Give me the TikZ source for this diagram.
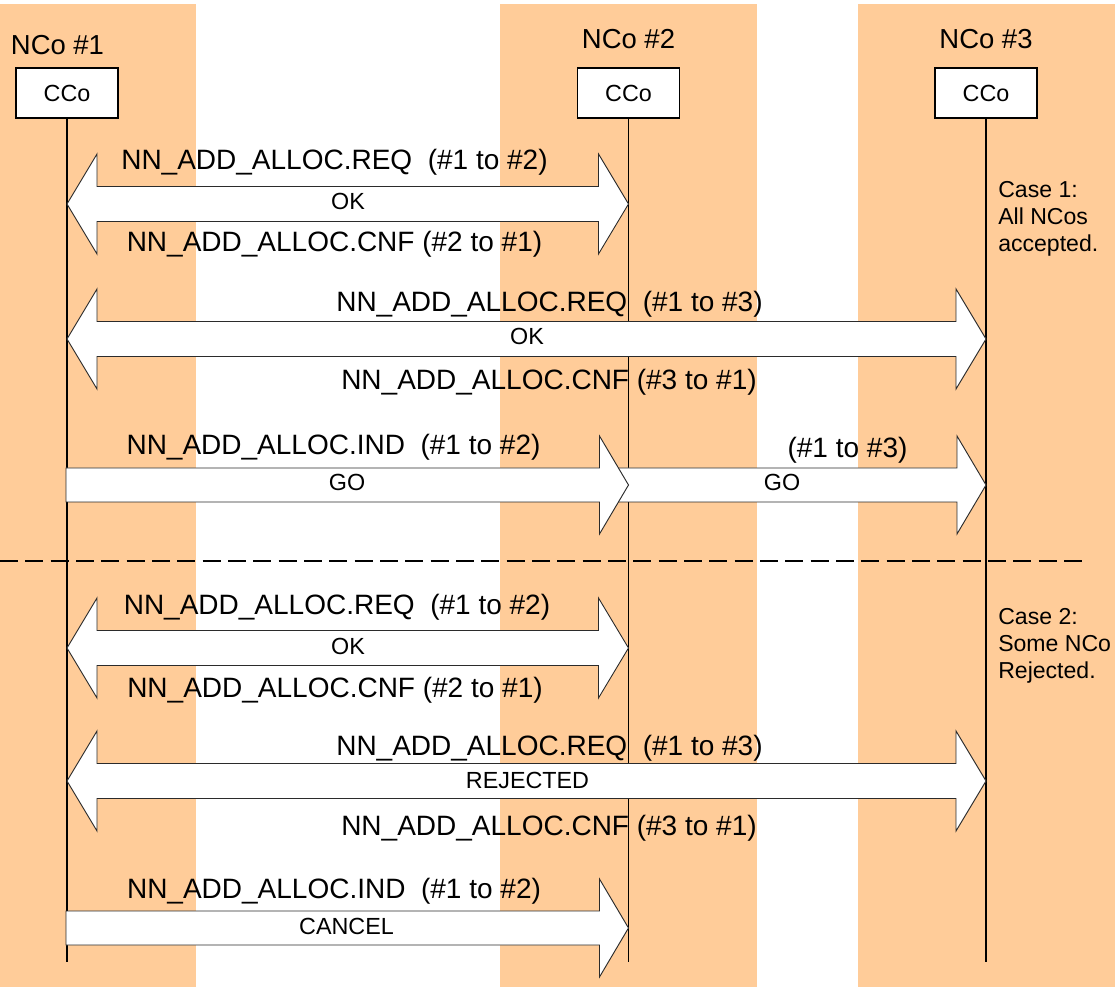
\documentclass[tikz,border=0pt]{standalone}
\usepackage{fontspec}
\setmainfont{Liberation Sans}
\usepackage{tikz}
\usetikzlibrary{calc}
\definecolor{peach}{HTML}{FFCC99}
\definecolor{edge}{HTML}{2B2B2B}
\tikzset{
  lane/.style={fill=peach,draw=none},
  ccobox/.style={draw,fill=white,line width=1.1pt,minimum width=76.5pt,minimum height=37.5pt,inner sep=0pt,font=\fontsize{17.5}{20}\selectfont},
  lifeline/.style={line width=1.1pt},
  blockarrow/.style={draw=edge,fill=white,line width=.7pt,line join=miter},
  msg/.style={font=\fontsize{21}{25}\selectfont,anchor=base,inner sep=0pt},
  note/.style={font=\fontsize{17.5}{20}\selectfont,anchor=base,inner sep=0pt},
  party/.style={font=\fontsize{20.6}{24}\selectfont,anchor=base,inner sep=0pt},
  casetext/.style={font=\fontsize{17.3}{20.25}\selectfont,align=left,anchor=base west,inner sep=0pt},
  divider/.style={dash pattern=on 13.5pt off 5.5pt,line width=2pt},
}
% double block arrow: left lifeline, right lifeline, row
\newcommand\twoway[3]{%
  \draw[blockarrow] ($(#1|-#3)$) -- ++(30,-50) -- ++(0,32.5) -- ($(#2|-#3)+(-30,-17.5)$)
    -- ++(0,-32.5) -- ($(#2|-#3)$) -- ++(-30,50) -- ++(0,-32.5)
    -- ($(#1|-#3)+(30,17.5)$) -- ++(0,32.5) -- cycle;}
% single block arrow: from lifeline, to lifeline, start shift, row
\newcommand\oneway[4]{%
  \draw[blockarrow] ($(#1|-#4)+(#3,-17)$) -- ($(#2|-#4)+(-29,-17)$) -- ++(0,-32)
    -- ($(#2|-#4)$) -- ++(-29,49) -- ++(0,-32) -- ($(#1|-#4)+(#3,17)$) -- cycle;}

\begin{document}
\begin{tikzpicture}[x=0.75pt,y=-0.75pt]
  \useasboundingbox (0,0) rectangle (1115,987);
  % lanes
  \fill[lane] (0,4) rectangle (196,987);
  \fill[lane] (500,4) rectangle (757,987);
  \fill[lane] (858,4) rectangle (1115,987);

  \draw[divider] (0,561) -- (1082,561);

  % parties
  \node[party] (nco1) at (57.5,55) {NCo \#1};
  \node[party] (nco2) at (628.5,49) {NCo \#2};
  \node[party] (nco3) at (986,49) {NCo \#3};
  \node[ccobox] (cco1) at (67,93) {CCo};
  \node[ccobox] (cco2) at (628.5,93) {CCo};
  \node[ccobox] (cco3) at (986,93) {CCo};

  \coordinate (bottom) at (0,962);
  \foreach \n in {1,2,3}
    \draw[lifeline] (cco\n.south) -- (cco\n|-bottom);

  % message rows
  \coordinate (r1) at (0,204);
  \coordinate (r2) at (0,339);
  \coordinate (r3) at (0,485);
  \coordinate (r4) at (0,648);
  \coordinate (r5) at (0,781);
  \coordinate (r6) at (0,928);

  % case 1
  \twoway{cco1}{cco2}{r1}
  \twoway{cco1}{cco3}{r2}
  \oneway{cco2}{cco3}{-20}{r3}
  \oneway{cco1}{cco2}{-1}{r3}

  \node[msg] (req1) at (334.5,170) {NN\_ADD\_ALLOC.REQ\ \ (\#1 to \#2)};
  \node[note] (ok1) at (348,210) {OK};
  \node[msg] (cnf1) at (334.5,252) {NN\_ADD\_ALLOC.CNF (\#2 to \#1)};

  \node[msg] (req2) at (549.5,312) {NN\_ADD\_ALLOC.REQ\ \ (\#1 to \#3)};
  \node[note] (ok2) at (527,345) {OK};
  \node[msg] (cnf2) at (549,390) {NN\_ADD\_ALLOC.CNF (\#3 to \#1)};

  \node[msg] (ind3) at (333.5,455) {NN\_ADD\_ALLOC.IND\ \ (\#1 to \#2)};
  \node[msg] (to3) at (847.5,458) {(\#1 to \#3)};
  \node[note] (go3a) at (347,491) {GO};
  \node[note] (go3b) at (782,491) {GO};

  \node[casetext] (case1) at (998,252) {Case 1:\\All NCos\\accepted.};

  % case 2
  \twoway{cco1}{cco2}{r4}
  \twoway{cco1}{cco3}{r5}
  \oneway{cco1}{cco2}{-1}{r6}

  \node[msg] (req4) at (337,615) {NN\_ADD\_ALLOC.REQ\ \ (\#1 to \#2)};
  \node[note] (ok4) at (348,654) {OK};
  \node[msg] (cnf4) at (335,697) {NN\_ADD\_ALLOC.CNF (\#2 to \#1)};

  \node[msg] (req5) at (549.5,755) {NN\_ADD\_ALLOC.REQ\ \ (\#1 to \#3)};
  \node[note] (rej5) at (527.5,788) {REJECTED};
  \node[msg] (cnf5) at (549,835) {NN\_ADD\_ALLOC.CNF (\#3 to \#1)};

  \node[msg] (ind6) at (334,898) {NN\_ADD\_ALLOC.IND\ \ (\#1 to \#2)};
  \node[note] (cancel6) at (346.5,934) {CANCEL};

  \node[casetext] (case2) at (998,678) {Case 2:\\Some NCo\\Rejected.};
\end{tikzpicture}
\end{document}
